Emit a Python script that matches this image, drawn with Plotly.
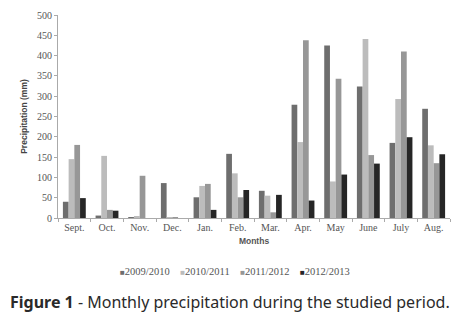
import plotly.graph_objects as go

months = ["Sept.", "Oct.", "Nov.", "Dec.", "Jan.", "Feb.", "Mar.", "Apr.", "May", "June", "July", "Aug."]
s2009 = [40, 6, 1, 86, 51, 158, 67, 279, 425, 324, 185, 269]
s2010 = [145, 153, 3, 2, 79, 110, 55, 187, 90, 441, 293, 179]
s2011 = [180, 20, 104, 1, 84, 51, 14, 438, 343, 155, 410, 135]
s2012 = [49, 18, 0, 0, 20, 69, 57, 43, 107, 134, 199, 157]
series_names = ["2009/2010", "2010/2011", "2011/2012", "2012/2013"]
colors = ["#6e6e6e", "#bcbcbc", "#979797", "#262626"]

fig = go.Figure()
for name, vals, c in zip(series_names, [s2009, s2010, s2011, s2012], colors):
    fig.add_trace(go.Bar(x=months, y=vals, name=name, showlegend=False,
                         marker=dict(color=c, line=dict(width=0))))

serif = "Liberation Serif"
legend_text = "&nbsp;&nbsp;&nbsp;&nbsp;".join(
    f"<span style='color:{c};font-size:8px'>■</span>{n}" for n, c in zip(series_names, colors))

fig.update_layout(
    width=456, height=318,
    margin=dict(l=58, r=6, t=15, b=100, autoexpand=False),
    paper_bgcolor="white", plot_bgcolor="white",
    barmode="group", bargap=0.3, bargroupgap=0,
    showlegend=False,
    xaxis=dict(showline=True, linecolor="#aaa", linewidth=1, ticks="outside", tickson="boundaries",
               ticklen=3, tickcolor="#aaa", tickfont=dict(family=serif, size=10, color="#555"),
               title=dict(text="<b>Months</b>", font=dict(family="Liberation Sans", size=8.5, color="#555"), standoff=6)),
    yaxis=dict(range=[0, 500], dtick=50, showgrid=False, zeroline=False, showline=True, linecolor="#aaa",
               linewidth=1, ticks="outside", ticklen=3, tickcolor="#aaa",
               tickfont=dict(family=serif, size=10, color="#555"),
               title=dict(text="<b>Precipitation (mm)</b>", font=dict(family="Liberation Sans", size=8.5, color="#444"), standoff=8)),
    annotations=[
        dict(text=legend_text, xref="paper", yref="paper", x=0.452, y=-0.262, xanchor="center", yanchor="middle",
             showarrow=False, font=dict(family=serif, size=10.5, color="#555")),
        dict(text="<b>Figure 1</b> - Monthly precipitation during the studied period.",
             xref="paper", yref="paper", x=-0.128, y=-0.415, xanchor="left", yanchor="middle",
             showarrow=False, font=dict(family="Noto Sans", size=16, color="#2a2a2a"))],
)

fig.write_html("out.html", config={"displayModeBar": False},
               post_script="document.body.style.margin='0';document.body.style.overflow='hidden';")
